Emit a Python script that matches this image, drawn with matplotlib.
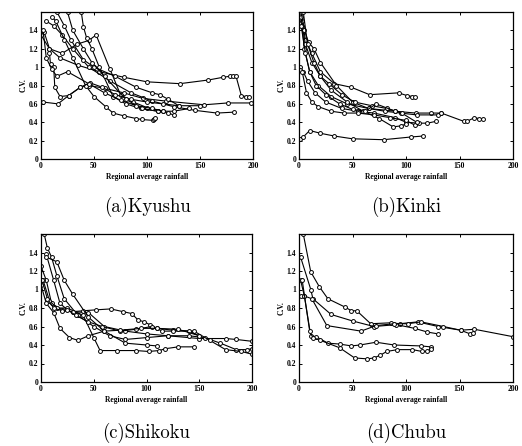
import matplotlib
matplotlib.use("Agg")
import matplotlib.pyplot as plt

titles = ["(a)Kyushu", "(b)Kinki", "(c)Shikoku", "(d)Chubu"]
x_ticks = [0, 50, 100, 150, 200]
y_ticks = [0, 0.2, 0.4, 0.6, 0.8, 1, 1.2, 1.4]
y_tick_labels = ["0", "0.2", "0.4", "0.6", "0.8", "1", "1.2", "1.4"]
x_label = "Regional average rainfall"
y_label = "C.V."

# ---- (a) Kyushu ----
kyushu_x = [
    [2, 16, 26, 37, 45, 60, 78, 96, 118, 154, 176, 198],
    [3, 8, 18, 35, 55, 78, 100, 131, 158, 172, 178, 181, 184, 189, 193, 196],
    [5, 12, 20, 30, 45, 65, 85, 105, 125, 145, 166, 182],
    [10, 14, 22, 30, 42, 50, 61, 68, 78, 90, 95, 106, 107, 108],
    [0, 8, 20, 34, 45, 52, 65, 75, 87, 100, 115, 125],
    [38, 40, 43, 48, 55, 68, 80, 94, 110, 125, 140],
    [8, 9, 12, 13, 18, 26, 37, 46, 58, 70, 85, 100, 115, 130, 150],
    [15, 22, 28, 40, 50, 70, 90, 105, 112, 120, 130],
    [25, 30, 40, 48, 60, 80, 95, 110, 120],
    [2, 5, 10, 15, 25, 45, 60, 75, 90, 105, 115],
]
kyushu_y = [
    [0.62, 0.60, 0.69, 0.78, 0.80, 0.77, 0.72, 0.66, 0.63, 0.59, 0.61, 0.61],
    [1.38, 1.20, 1.10, 1.02, 0.95, 0.89, 0.84, 0.82, 0.86, 0.89, 0.90, 0.90, 0.90, 0.69, 0.68, 0.67],
    [1.50, 1.45, 1.35, 1.20, 1.00, 0.85, 0.72, 0.63, 0.57, 0.53, 0.50, 0.51],
    [1.55, 1.50, 1.30, 1.10, 0.80, 0.68, 0.57, 0.50, 0.47, 0.44, 0.43, 0.42, 0.44, 0.45],
    [1.35, 1.20, 1.15, 1.25, 1.29, 1.35, 0.98, 0.70, 0.62, 0.56, 0.52, 0.48],
    [1.60, 1.44, 1.32, 1.20, 1.00, 0.68, 0.60, 0.55, 0.52, 0.52, 0.55],
    [1.15, 1.03, 1.00, 0.78, 0.68, 0.69, 0.78, 0.83, 0.78, 0.70, 0.65, 0.62, 0.60, 0.58, 0.58],
    [1.60, 1.45, 1.30, 1.08, 1.00, 0.90, 0.78, 0.72, 0.70, 0.65, 0.58],
    [1.60, 1.40, 1.20, 1.05, 0.90, 0.65, 0.55, 0.52, 0.50],
    [1.40, 1.10, 0.98, 0.90, 0.95, 0.82, 0.72, 0.64, 0.58, 0.55, 0.52],
]

# ---- (b) Kinki ----
kinki_x = [
    [1, 4, 10, 20, 33, 50, 79, 105, 116],
    [3, 6, 12, 20, 33, 49, 66, 93, 101, 106, 108],
    [2, 5, 10, 18, 30, 45, 65, 90, 109, 123, 133, 154, 157, 164, 168, 172],
    [1, 4, 8, 15, 25, 40, 55, 70, 90, 100, 112, 120, 128],
    [3, 6, 12, 20, 30, 45, 60, 75, 88, 95, 100],
    [2, 5, 9, 14, 20, 35, 50, 65, 80, 95, 110, 130, 133],
    [1, 3, 7, 12, 18, 30, 42, 55, 70, 85, 100, 108],
    [4, 8, 14, 20, 28, 40, 52, 68, 82, 96, 110],
    [2, 6, 10, 16, 25, 38, 50, 62, 72, 90],
]
kinki_y = [
    [0.22, 0.24, 0.31, 0.28, 0.25, 0.22, 0.21, 0.24, 0.25],
    [1.50, 1.30, 1.15, 0.95, 0.82, 0.78, 0.70, 0.72, 0.69, 0.68, 0.68],
    [1.55, 1.20, 0.95, 0.80, 0.68, 0.60, 0.55, 0.52, 0.50, 0.50, 0.50, 0.41, 0.41, 0.45, 0.44, 0.44],
    [1.00, 0.95, 0.85, 0.72, 0.62, 0.55, 0.52, 0.50, 0.45, 0.40, 0.39, 0.39, 0.41],
    [1.45, 1.25, 1.05, 0.90, 0.75, 0.62, 0.52, 0.44, 0.35, 0.36, 0.38],
    [1.60, 1.40, 1.27, 1.20, 1.05, 0.80, 0.62, 0.55, 0.52, 0.50, 0.48, 0.48, 0.50],
    [0.97, 0.95, 0.72, 0.62, 0.57, 0.52, 0.50, 0.50, 0.48, 0.45, 0.42, 0.37],
    [1.60, 1.25, 1.05, 0.90, 0.82, 0.70, 0.62, 0.58, 0.55, 0.50, 0.40],
    [1.45, 1.15, 0.95, 0.80, 0.70, 0.60, 0.54, 0.52, 0.60, 0.52],
]

# ---- (c) Shikoku ----
shikoku_x = [
    [0, 5, 10, 20, 30, 45, 60, 80, 100, 120, 150, 175, 185, 200],
    [3, 6, 10, 15, 22, 35, 50, 65, 80, 100, 120, 140, 155, 170, 185, 195, 200],
    [2, 8, 15, 25, 40, 50, 56, 72, 90, 102, 112, 118, 130, 145],
    [1, 6, 12, 20, 30, 40, 52, 66, 78, 86, 92, 98, 103, 110, 125, 145, 160, 175, 190, 200],
    [5, 12, 18, 25, 33, 45, 58, 75, 90, 105, 115, 125, 140, 150],
    [0, 5, 12, 18, 27, 35, 45, 60, 75, 95, 110, 130, 150],
    [5, 15, 22, 30, 45, 60, 80, 100, 110],
]
shikoku_y = [
    [1.25, 1.10, 0.85, 0.78, 0.76, 0.75, 0.60, 0.55, 0.52, 0.50, 0.47, 0.47, 0.46, 0.44],
    [1.60, 1.45, 1.35, 1.15, 0.90, 0.72, 0.60, 0.50, 0.46, 0.48, 0.50, 0.50, 0.48, 0.42, 0.35, 0.35, 0.36],
    [1.10, 0.88, 0.80, 0.80, 0.72, 0.48, 0.34, 0.34, 0.34, 0.33, 0.34, 0.36, 0.38, 0.38],
    [1.10, 0.90, 0.80, 0.77, 0.76, 0.77, 0.78, 0.79, 0.76, 0.74, 0.67, 0.65, 0.62, 0.58, 0.56, 0.55, 0.45, 0.35, 0.33, 0.30],
    [1.38, 1.10, 0.85, 0.78, 0.72, 0.65, 0.60, 0.55, 0.57, 0.60, 0.55, 0.55, 0.55, 0.50],
    [1.05, 0.85, 0.75, 0.58, 0.48, 0.45, 0.50, 0.55, 0.56, 0.58, 0.58, 0.57, 0.50],
    [1.35, 1.30, 1.10, 0.95, 0.70, 0.55, 0.42, 0.40, 0.39],
]

# ---- (d) Chubu ----
chubu_x = [
    [4, 11, 19, 27, 43, 49, 54, 67, 86, 94, 111, 130, 151, 164, 200],
    [1.5, 11, 13, 30, 50, 70, 91, 108, 120, 130],
    [1.5, 5, 12, 26, 58, 72, 89, 102, 114, 135, 151, 160, 163],
    [2, 5, 11, 16, 27, 38, 49, 57, 72, 89, 114, 123],
    [3, 10, 13, 20, 38, 52, 64, 70, 76, 82, 92, 106, 115, 120, 123],
]
chubu_y = [
    [1.60, 1.19, 1.03, 0.90, 0.81, 0.77, 0.77, 0.63, 0.64, 0.63, 0.65, 0.60, 0.56, 0.57, 0.49],
    [1.35, 1.00, 0.90, 0.73, 0.66, 0.60, 0.62, 0.58, 0.54, 0.52],
    [1.10, 0.93, 0.90, 0.61, 0.55, 0.61, 0.63, 0.63, 0.65, 0.60, 0.56, 0.52, 0.53],
    [0.93, 0.93, 0.50, 0.49, 0.42, 0.41, 0.39, 0.40, 0.43, 0.40, 0.39, 0.38],
    [1.10, 0.55, 0.48, 0.45, 0.37, 0.26, 0.25, 0.26, 0.29, 0.33, 0.35, 0.35, 0.33, 0.33, 0.36],
]

panels = [(kyushu_x, kyushu_y), (kinki_x, kinki_y), (shikoku_x, shikoku_y), (chubu_x, chubu_y)]

W, H = 522, 446
fig = plt.figure(figsize=(W / 100, H / 100), dpi=100)
fig.patch.set_facecolor("white")

# pixel boxes: left, top, right, bottom
boxes = [(41, 12, 253, 159), (299, 12, 513, 159), (41, 234, 252, 382), (299, 234, 513, 382)]
title_y = [207, 207, 433, 433]

tick_font = dict(family="Liberation Serif", weight="bold", size=5.5)

for i, (box, (xs, ys)) in enumerate(zip(boxes, panels)):
    l, t, r, b = box
    ax = fig.add_axes([l / W, 1 - b / H, (r - l) / W, (b - t) / H])
    for sx, sy in zip(xs, ys):
        ax.plot(sx, sy, color="black", lw=0.8, marker="o", ms=2.8,
                mfc="white", mec="black", mew=0.7, clip_on=True)
    ax.set_xlim(0, 200)
    ax.set_ylim(0, 1.6)
    ax.set_xticks(x_ticks)
    ax.set_yticks(y_ticks)
    ax.set_xticklabels([str(v) for v in x_ticks], fontdict=tick_font)
    ax.set_yticklabels(y_tick_labels, fontdict=tick_font)
    ax.tick_params(direction="in", length=2.5, width=0.7, top=True, right=True, pad=2)
    for s in ax.spines.values():
        s.set_linewidth(0.9)
    ax.set_xlabel(x_label, family="Liberation Serif", weight="bold", size=5.5, labelpad=2)
    ax.set_ylabel(y_label, family="Liberation Serif", weight="bold", size=5.5, labelpad=1)
    fig.text((l + r) / 2 / W, 1 - title_y[i] / H, titles[i], ha="center", va="center",
             family="cmr10", size=13.5)

fig.savefig("out.png", dpi=100, facecolor="white")
